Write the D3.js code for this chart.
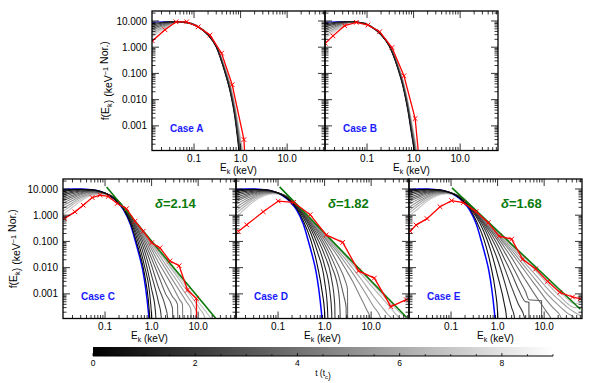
<!DOCTYPE html>
<html>
<head>
<meta charset="utf-8">
<script src="https://cdn.jsdelivr.net/npm/d3@7"></script>
<style>
body{margin:0;background:#fff}
svg text{font-family:"Liberation Sans",Arial,Helvetica,sans-serif}
</style>
</head>
<body>
<svg id="chart" width="600" height="383"></svg>
<script>
// axes
const xDomain = [0.0125, 65]
const yDomain = [1.15e-4, 24]
const xTickLabels = [0.1, 1, 10]
const yTickLabels = [10, 1, 0.1, 0.01, 0.001]
const tRange = [0, 9]
const tLabels = [0, 2, 4, 6, 8]

// top row (A, B): energies shared by every curve, one row of f values per curve
const topE = [0.0125, 0.02, 0.03, 0.045, 0.08, 0.12, 0.2, 0.3, 0.45, 0.6, 0.75, 0.9, 1.05, 1.2]
const blueA = [8.9, 9.3, 9.5, 9.5, 8.25, 6.05, 2.94, 1.04, 0.133, 0.021, 0.0027, 2.2e-4, 1.8e-5, 1.2e-6]
const rowsA = [
	[0.9, [8.0, 8.8, 9.2, 9.4, 8.2, 6.0, 2.9, 1.02, 0.125, 0.019, 0.0022, 1.6e-4, 1e-5, 5e-7]],
	[1.8, [7.0, 8.2, 9.0, 9.4, 8.25, 6.05, 2.94, 1.04, 0.133, 0.021, 0.0027, 2.2e-4, 1.8e-5, 1.2e-6]],
	[2.7, [6.0, 7.5, 8.7, 9.3, 8.3, 6.1, 2.98, 1.06, 0.141, 0.023, 0.0032, 3e-4, 3e-5, 2.5e-6]],
	[3.6, [5.1, 6.8, 8.3, 9.2, 8.35, 6.15, 3.02, 1.08, 0.15, 0.026, 0.0037, 3.9e-4, 4.5e-5, 5e-6]],
	[4.5, [4.3, 6.1, 7.9, 9.1, 8.4, 6.2, 3.06, 1.1, 0.16, 0.029, 0.0043, 5e-4, 7e-5, 9e-6]],
	[5.4, [3.6, 5.4, 7.5, 9.0, 8.45, 6.25, 3.1, 1.12, 0.17, 0.032, 0.005, 6.3e-4, 1e-4, 1.6e-5]],
	[6.3, [3.0, 4.8, 7.0, 8.9, 8.5, 6.3, 3.14, 1.14, 0.18, 0.035, 0.0057, 8e-4, 1.5e-4, 2.7e-5]],
	[7.2, [2.5, 4.2, 6.6, 8.8, 8.55, 6.35, 3.18, 1.16, 0.19, 0.038, 0.0065, 1e-3, 2.1e-4, 4.5e-5]]
]
const redA = [[0.0127, 1.74], [0.0238, 4.6], [0.041, 9.3], [0.0695, 9.3], [0.123, 6.0], [0.22, 2.9],
	[0.39, 0.59], [0.66, 0.037], [1.18, 3.0e-4], [1.3, 1e-5]]

const blueB = [8.9, 9.3, 9.5, 9.5, 8.35, 6.15, 2.99, 1.12, 0.18, 0.031, 0.0046, 6e-4, 1e-4, 1.2e-5]
const rowsB = [
	[0.9, [8.0, 8.8, 9.2, 9.4, 8.3, 6.1, 2.95, 1.1, 0.17, 0.028, 0.004, 5e-4, 8e-5, 8e-6]],
	[1.8, [7.0, 8.1, 8.9, 9.35, 8.35, 6.15, 2.99, 1.12, 0.18, 0.031, 0.0046, 6e-4, 1e-4, 1.2e-5]],
	[2.7, [6.0, 7.4, 8.6, 9.3, 8.4, 6.2, 3.03, 1.14, 0.19, 0.034, 0.0052, 7.2e-4, 1.3e-4, 1.8e-5]],
	[3.6, [5.0, 6.6, 8.2, 9.2, 8.45, 6.25, 3.07, 1.16, 0.2, 0.037, 0.0058, 8.5e-4, 1.6e-4, 2.6e-5]],
	[4.5, [4.2, 5.9, 7.8, 9.1, 8.5, 6.3, 3.1, 1.18, 0.21, 0.04, 0.0065, 1e-3, 2e-4, 3.6e-5]],
	[5.4, [3.5, 5.2, 7.3, 9.0, 8.55, 6.35, 3.13, 1.2, 0.22, 0.043, 0.0072, 1.15e-3, 2.5e-4, 5e-5]],
	[6.3, [2.9, 4.5, 6.8, 8.9, 8.6, 6.4, 3.16, 1.22, 0.23, 0.046, 0.008, 1.3e-3, 3e-4, 6.5e-5]],
	[7.2, [2.3, 3.9, 6.3, 8.8, 8.65, 6.45, 3.2, 1.25, 0.24, 0.05, 0.0088, 1.5e-3, 3.6e-4, 8.5e-5]]
]
const redB = [[0.0127, 1.41], [0.0186, 2.7], [0.033, 6.6], [0.059, 8.9], [0.105, 7.0], [0.187, 3.9],
	[0.343, 0.97], [0.62, 0.081], [1.08, 0.0019], [1.35, 3e-5]]

// bottom row (C, D, E): low-energy part on loE, then the tail as [E, f] pairs
const loE = [0.0125, 0.02, 0.03, 0.05, 0.08, 0.12]
const blueBot = [[0.0125, 9.5], [0.02, 10], [0.03, 10], [0.05, 9.4], [0.08, 8.0], [0.12, 5.8], [0.18, 3.3],
	[0.25, 1.6], [0.35, 0.45], [0.45, 0.1], [0.55, 0.027], [0.65, 0.0075], [0.75, 0.0015], [0.85, 2.2e-4], [0.95, 2.5e-5]]

const curvesC = [
	{t:0.3, lo:[9.0,9.6,9.8,9.3,8.0,5.9], tail:[[0.18,3.4],[0.25,1.7],[0.35,0.5],[0.5,0.07],[0.7,0.006],[0.85,6e-4],[0.95,5e-5]]},
	{t:0.9, lo:[8.0,9.0,9.5,9.2,8.0,6.0], tail:[[0.18,3.5],[0.25,1.8],[0.35,0.6],[0.5,0.11],[0.7,0.012],[0.9,0.0012],[1.0,1.5e-4],[1.08,1e-5]]},
	{t:1.5, lo:[6.9,8.2,9.0,9.0,7.9,6.0], tail:[[0.18,3.6],[0.25,1.9],[0.35,0.7],[0.5,0.16],[0.7,0.025],[1.0,0.0015],[1.2,2.5e-4],[1.3,2e-5]]},
	{t:2.1, lo:[5.9,7.4,8.4,8.7,7.8,6.0], tail:[[0.18,3.7],[0.25,2.0],[0.35,0.8],[0.5,0.22],[0.7,0.045],[1.0,0.005],[1.4,5e-4],[1.6,1.5e-4],[1.7,1e-5]]},
	{t:2.7, lo:[5.0,6.6,7.8,8.4,7.7,6.0], tail:[[0.18,3.75],[0.25,2.0],[0.35,0.85],[0.5,0.28],[0.7,0.07],[1.0,0.012],[1.4,0.0018],[2.0,3e-4],[2.2,1.3e-4],[2.25,1e-5]]},
	{t:3.3, lo:[4.2,5.8,7.2,8.0,7.5,6.0], tail:[[0.18,3.8],[0.25,2.0],[0.35,0.9],[0.5,0.32],[0.7,0.1],[1.0,0.022],[1.4,0.005],[2.0,0.001],[2.8,3e-4],[2.9,1e-5]]},
	{t:3.9, lo:[3.5,5.0,6.6,7.7,7.4,6.0], tail:[[0.18,3.85],[0.25,2.0],[0.35,0.92],[0.5,0.36],[0.7,0.13],[1.0,0.035],[1.4,0.009],[2.0,0.0025],[2.8,8e-4],[3.6,4e-4],[3.7,1e-5]]},
	{t:4.5, lo:[2.9,4.3,6.0,7.3,7.2,6.0], tail:[[0.18,3.9],[0.25,2.0],[0.35,0.94],[0.5,0.4],[0.7,0.16],[1.0,0.05],[1.4,0.016],[2.0,0.0055],[2.8,0.002],[4.0,6e-4],[4.6,4e-4],[4.7,1e-5]]},
	{t:5.1, lo:[2.3,3.6,5.3,6.9,7.0,6.0], tail:[[0.18,3.95],[0.25,2.0],[0.35,0.95],[0.5,0.42],[0.7,0.18],[1.0,0.065],[1.4,0.025],[2.0,0.009],[2.8,0.0035],[4.0,0.0013],[5.6,5e-4],[7.0,2.5e-4],[7.1,1e-5]]},
	{t:5.7, lo:[1.8,3.0,4.7,6.5,6.9,6.0], tail:[[0.18,4.0],[0.25,2.0],[0.35,0.96],[0.5,0.44],[0.7,0.2],[1.0,0.08],[1.4,0.034],[2.0,0.013],[2.8,0.0055],[4.0,0.0022],[5.6,9e-4],[8.0,3.5e-4],[9.2,2e-4],[9.3,1e-5]]},
	{t:6.3, lo:[1.4,2.5,4.1,6.1,6.7,6.0], tail:[[0.18,4.0],[0.25,2.0],[0.35,0.97],[0.5,0.45],[0.7,0.21],[1.0,0.09],[1.4,0.042],[2.0,0.018],[2.8,0.008],[4.0,0.0033],[5.6,0.0014],[8.0,6e-4],[11,2.6e-4],[14,1.2e-4],[15,1e-5]]},
	{t:6.9, lo:[1.05,2.0,3.5,5.6,6.5,6.0], tail:[[0.18,4.0],[0.25,2.0],[0.35,0.98],[0.5,0.46],[0.7,0.22],[1.0,0.095],[1.4,0.047],[2.0,0.021],[2.8,0.0095],[4.0,0.0042],[5.6,0.0019],[8.0,8.5e-4],[11,4e-4],[16,1.7e-4],[20,1e-4]]}
]
const redC = [[0.0133,0.74],[0.0226,1.34],[0.034,2.4],[0.053,4.7],[0.078,5.8],[0.117,5.2],[0.183,2.8],[0.29,1.78],
	[0.44,0.59],[0.66,0.245],[1.0,0.089],[1.51,0.057],[2.47,0.018],[3.9,0.0118],[5.9,0.0014],[9.2,6.7e-4],[9.25,1e-5]]
const greenC = [[0.108, 12], [24, 1.15e-4]]

const curvesD = [
	{t:0.3, lo:[9.0,9.6,9.8,9.3,8.0,6.0], tail:[[0.18,3.5],[0.25,1.8],[0.35,0.6],[0.5,0.12],[0.7,0.012],[0.9,0.001],[1.0,2e-4],[1.05,1e-5]]},
	{t:0.9, lo:[8.0,9.0,9.5,9.2,8.0,6.1], tail:[[0.18,3.7],[0.25,2.0],[0.35,0.8],[0.5,0.22],[0.7,0.04],[1.0,0.003],[1.15,3e-4],[1.22,1e-5]]},
	{t:1.5, lo:[6.8,8.1,8.9,9.0,8.0,6.2], tail:[[0.18,3.9],[0.25,2.2],[0.35,0.95],[0.5,0.32],[0.7,0.08],[1.0,0.012],[1.3,0.0012],[1.42,2e-4],[1.45,1e-5]]},
	{t:2.1, lo:[5.7,7.2,8.3,8.7,7.9,6.2], tail:[[0.18,4.0],[0.25,2.3],[0.35,1.05],[0.5,0.4],[0.7,0.13],[1.0,0.03],[1.4,0.004],[1.65,4e-4],[1.7,1e-5]]},
	{t:2.7, lo:[4.7,6.3,7.6,8.3,7.8,6.3], tail:[[0.18,4.1],[0.25,2.4],[0.35,1.15],[0.5,0.48],[0.7,0.18],[1.0,0.055],[1.4,0.012],[2.0,0.0012],[2.15,2e-4],[2.2,1e-5]]},
	{t:3.3, lo:[3.9,5.5,7.0,8.0,7.7,6.3], tail:[[0.18,4.2],[0.25,2.45],[0.35,1.2],[0.5,0.54],[0.7,0.23],[1.0,0.08],[1.4,0.024],[2.0,0.005],[2.6,8e-4],[2.9,3e-4],[2.95,1e-5]]},
	{t:3.9, lo:[3.2,4.8,6.4,7.6,7.6,6.3], tail:[[0.18,4.3],[0.25,2.5],[0.35,1.25],[0.5,0.58],[0.7,0.27],[1.0,0.11],[1.4,0.04],[2.0,0.012],[2.8,0.003],[3.1,0.0015],[3.15,1e-5]]},
	{t:4.5, lo:[2.6,4.1,5.8,7.2,7.4,6.3], tail:[[0.18,4.4],[0.25,2.55],[0.35,1.3],[0.5,0.62],[0.7,0.31],[1.0,0.14],[1.4,0.06],[2.0,0.024],[2.8,0.009],[4.0,0.003],[5.6,9e-4],[8.0,2.5e-4],[9.5,1.2e-4],[10,1e-5]]},
	{t:5.1, lo:[2.0,3.4,5.1,6.8,7.2,6.3], tail:[[0.18,4.5],[0.25,2.6],[0.35,1.35],[0.5,0.66],[0.7,0.34],[1.0,0.16],[1.4,0.075],[2.0,0.034],[2.8,0.015],[4.0,0.0062],[5.6,0.0025],[8.0,9e-4],[11,3.5e-4],[16,1.2e-4],[17,1e-5]]},
	{t:5.7, lo:[1.5,2.8,4.5,6.4,7.0,6.3], tail:[[0.18,4.55],[0.25,2.6],[0.35,1.38],[0.5,0.7],[0.7,0.36],[1.0,0.18],[1.4,0.09],[2.0,0.043],[2.8,0.021],[4.0,0.0095],[5.6,0.0045],[8.0,0.0019],[11,8.5e-4],[16,3.6e-4],[23,1.6e-4],[28,1.1e-4],[29,1e-5]]},
	{t:6.3, lo:[1.15,2.3,3.9,6.0,6.8,6.3], tail:[[0.18,4.6],[0.25,2.6],[0.35,1.4],[0.5,0.72],[0.7,0.38],[1.0,0.2],[1.4,0.1],[2.0,0.052],[2.8,0.027],[4.0,0.013],[5.6,0.0068],[8.0,0.0033],[11,0.0017],[16,8e-4],[23,3.8e-4],[32,1.9e-4],[45,1e-4]]},
	{t:6.9, lo:[0.85,1.8,3.3,5.5,6.6,6.3], tail:[[0.18,4.65],[0.25,2.6],[0.35,1.42],[0.5,0.74],[0.7,0.39],[1.0,0.21],[1.4,0.11],[2.0,0.057],[2.8,0.03],[4.0,0.0155],[5.6,0.0082],[8.0,0.0042],[11,0.0023],[16,0.0011],[23,5.6e-4],[32,3e-4],[45,1.7e-4],[65,1.05e-4]]}
]
const redD = [[0.014,0.24],[0.0212,0.43],[0.048,1.35],[0.101,3.45],[0.215,3.1],[0.49,1.05],[1.08,0.177],[2.45,0.092],
	[5.35,0.0075],[11.7,0.004],[26.5,3.25e-4],[57,6e-4]]
const greenD = [[0.108, 12], [58, 1.25e-4]]

const curvesE = [
	{t:0.3, lo:[9.0,9.6,9.8,9.3,8.0,6.0], tail:[[0.18,3.5],[0.25,1.8],[0.35,0.6],[0.5,0.13],[0.7,0.014],[0.9,0.0012],[1.0,2e-4],[1.05,1e-5]]},
	{t:0.9, lo:[8.0,9.0,9.5,9.2,8.0,6.1], tail:[[0.18,3.7],[0.25,2.0],[0.35,0.85],[0.5,0.25],[0.7,0.05],[1.0,0.005],[1.4,4e-4],[1.55,1.3e-4],[1.6,1e-5]]},
	{t:1.5, lo:[6.8,8.1,8.9,9.0,8.0,6.2], tail:[[0.18,3.9],[0.25,2.2],[0.35,1.0],[0.5,0.36],[0.7,0.1],[1.0,0.02],[1.4,0.003],[2.0,3e-4],[2.3,1.3e-4],[2.4,1e-5]]},
	{t:2.1, lo:[5.7,7.2,8.3,8.7,7.9,6.2], tail:[[0.18,4.0],[0.25,2.3],[0.35,1.1],[0.5,0.45],[0.7,0.16],[1.0,0.045],[1.4,0.01],[2.0,0.0018],[2.8,4e-4],[3.8,1.2e-4],[3.9,1e-5]]},
	{t:2.7, lo:[4.7,6.3,7.6,8.3,7.8,6.3], tail:[[0.18,4.1],[0.25,2.4],[0.35,1.2],[0.5,0.52],[0.7,0.22],[1.0,0.075],[1.4,0.022],[2.0,0.006],[2.8,0.0015],[4.0,5e-4],[4.7,4.8e-4],[4.75,1e-5]]},
	{t:3.3, lo:[3.9,5.5,7.0,8.0,7.7,6.3], tail:[[0.18,4.2],[0.25,2.45],[0.35,1.25],[0.5,0.58],[0.7,0.27],[1.0,0.11],[1.4,0.04],[2.0,0.013],[2.8,0.004],[4.0,0.0012],[4.7,6e-4],[8.8,5.5e-4],[8.85,1e-5]]},
	{t:3.9, lo:[3.2,4.8,6.4,7.6,7.6,6.3], tail:[[0.18,4.3],[0.25,2.5],[0.35,1.3],[0.5,0.62],[0.7,0.31],[1.0,0.14],[1.4,0.06],[2.0,0.024],[2.8,0.009],[4.0,0.0033],[5.6,0.0013],[8.0,5e-4],[11,2.2e-4],[14,1.1e-4],[15,1e-5]]},
	{t:4.5, lo:[2.6,4.1,5.8,7.2,7.4,6.3], tail:[[0.18,4.35],[0.25,2.52],[0.35,1.35],[0.5,0.68],[0.7,0.35],[1.0,0.17],[1.4,0.08],[2.0,0.036],[2.8,0.016],[4.0,0.0068],[5.6,0.003],[8.0,0.0013],[11,6e-4],[16,2.8e-4],[23,1.3e-4],[25,1e-5]]},
	{t:5.1, lo:[2.0,3.4,5.1,6.8,7.2,6.3], tail:[[0.18,4.4],[0.25,2.55],[0.35,1.4],[0.5,0.72],[0.7,0.38],[1.0,0.19],[1.4,0.095],[2.0,0.046],[2.8,0.022],[4.0,0.01],[5.6,0.0048],[8.0,0.0022],[11,0.0011],[16,5.5e-4],[23,3e-4],[32,1.8e-4],[45,1.2e-4],[50,1e-5]]},
	{t:5.7, lo:[1.5,2.8,4.5,6.4,7.0,6.3], tail:[[0.18,4.42],[0.25,2.56],[0.35,1.42],[0.5,0.76],[0.7,0.41],[1.0,0.21],[1.4,0.11],[2.0,0.057],[2.8,0.029],[4.0,0.014],[5.6,0.0072],[8.0,0.0035],[11,0.0018],[16,9e-4],[23,5e-4],[32,3e-4],[45,2e-4],[65,1.4e-4]]},
	{t:6.3, lo:[1.2,2.3,3.9,6.0,6.8,6.3], tail:[[0.18,4.43],[0.25,2.57],[0.35,1.43],[0.5,0.78],[0.7,0.43],[1.0,0.23],[1.4,0.125],[2.0,0.068],[2.8,0.036],[4.0,0.019],[5.6,0.0102],[8.0,0.0052],[11,0.0028],[16,0.0014],[23,7.5e-4],[32,4.2e-4],[45,3e-4],[65,3.2e-4]]},
	{t:6.9, lo:[0.95,1.8,3.3,5.5,6.6,6.3], tail:[[0.18,4.44],[0.25,2.58],[0.35,1.44],[0.5,0.79],[0.7,0.44],[1.0,0.24],[1.4,0.135],[2.0,0.074],[2.8,0.041],[4.0,0.0225],[5.6,0.0125],[8.0,0.0068],[11,0.0038],[16,0.002],[23,0.0011],[32,6.2e-4],[45,4.2e-4],[65,5e-4]]}
]
const redE = [[0.0133,0.245],[0.0177,0.42],[0.0305,0.74],[0.058,2.1],[0.103,3.6],[0.183,3.0],[0.343,1.37],[0.63,0.52],
	[1.08,0.16],[2.0,0.122],[3.44,0.021],[6.6,0.0089],[11.8,0.003],[21.7,0.00114],[40.7,7.6e-4],[60,6.5e-4]]
const greenE = [[0.105, 11], [60, 2.6e-4]]

const W = 173, H = 139.5
const svg = d3.select("#chart")
const defs = svg.append("defs")
const gray = t => d3.interpolateRgb("#000", "#fff")(t/tRange[1])

const fromRows = rows => rows.map(r => ({t: r[0], pts: topE.map((e, i) => [e, r[1][i]])}))
const fromTails = cs => cs.map(c => ({t: c.t, pts: loE.map((e, i) => [e, c.lo[i]]).concat(c.tail)}))

const panels = [
	{name:"A", x:152, y:11, yLab:-43, blueW:1, blue:topE.map((e, i) => [e, blueA[i]]), curves:fromRows(rowsA), red:redA},
	{name:"B", x:325, y:11, blueW:1, blue:topE.map((e, i) => [e, blueB[i]]), curves:fromRows(rowsB), red:redB},
	{name:"C", x:63, y:179, yLab:-46, blueW:1.5, blue:blueBot, curves:fromTails(curvesC), red:redC, green:greenC, delta:"2.14"},
	{name:"D", x:236, y:179, blueW:1.5, blue:blueBot, curves:fromTails(curvesD), red:redD, green:greenD, delta:"1.82"},
	{name:"E", x:409, y:179, blueW:1.5, blue:blueBot, curves:fromTails(curvesE), red:redE, green:greenE, delta:"1.68"}
]

const isMajor = v => Math.abs(Math.log10(v) - Math.round(Math.log10(v))) < 1e-6

function subText(sel, parts, size){
	// parts: [text, "sub"|"sup"|undefined]
	parts.forEach(p => {
		const s = sel.append("tspan").text(p[0])
		if(p[1]==="sub") s.attr("font-size", size*0.7).attr("dy", size*0.3)
		else if(p[1]==="sup") s.attr("font-size", size*0.7).attr("dy", -size*0.4)
		const back = p[1]==="sub" ? -size*0.3 : p[1]==="sup" ? size*0.4 : 0
		if(back) sel.append("tspan").attr("dy", back).text("")
	})
}

panels.forEach(p => {
	const x = d3.scaleLog().domain(xDomain).range([0, W])
	const y = d3.scaleLog().domain(yDomain).range([H, 0])
	const g = svg.append("g").attr("transform", `translate(${p.x},${p.y})`)
	defs.append("clipPath").attr("id", "clip"+p.name)
		.append("rect").attr("width", W).attr("height", H)
	const body = g.append("g").attr("clip-path", `url(#clip${p.name})`)

	const smooth = d3.line().x(d => x(d[0])).y(d => y(d[1])).curve(d3.curveMonotoneX)
	const straight = d3.line().x(d => x(d[0])).y(d => y(d[1]))

	body.append("path").attr("d", smooth(p.blue))
		.attr("fill", "none").attr("stroke", "#0000ff").attr("stroke-width", p.blueW)

	p.curves.slice().sort((a, b) => b.t - a.t).forEach(c => {
		body.append("path").attr("d", smooth(c.pts))
			.attr("fill", "none").attr("stroke", gray(c.t)).attr("stroke-width", 1.1)
	})

	if(p.green)
		body.append("path").attr("d", straight(p.green))
			.attr("fill", "none").attr("stroke", "#0b7a0b").attr("stroke-width", 1.6)

	body.append("path").attr("d", straight(p.red))
		.attr("fill", "none").attr("stroke", "#ff0000").attr("stroke-width", 1.3)
	body.selectAll(".mk").data(p.red).enter().append("path")
		.attr("transform", d => `translate(${x(d[0])},${y(d[1])})`)
		.attr("d", "M-2.3,-2.3L2.3,2.3M-2.3,2.3L2.3,-2.3")
		.attr("stroke", "#ff0000").attr("stroke-width", 1)

	// ticks on all four sides, pointing inward
	const tk = g.append("g").attr("stroke", "#000").attr("stroke-width", 0.8)
	x.ticks().forEach(v => {
		const L = isMajor(v) ? 7 : 3.5, px = x(v)
		tk.append("line").attr("x1", px).attr("x2", px).attr("y1", H).attr("y2", H-L)
		tk.append("line").attr("x1", px).attr("x2", px).attr("y1", 0).attr("y2", L)
	})
	y.ticks().forEach(v => {
		const L = isMajor(v) ? 7 : 3.5, py = y(v)
		tk.append("line").attr("x1", 0).attr("x2", L).attr("y1", py).attr("y2", py)
		tk.append("line").attr("x1", W).attr("x2", W-L).attr("y1", py).attr("y2", py)
	})
	g.append("rect").attr("width", W).attr("height", H)
		.attr("fill", "none").attr("stroke", "#000").attr("stroke-width", 1.3)

	xTickLabels.forEach(v => {
		g.append("text").attr("x", x(v)).attr("y", H+11).attr("text-anchor", "middle")
			.attr("font-size", 10).text(d3.format(".1f")(v))
	})
	const xt = g.append("text").attr("x", W/2).attr("y", H+20.5).attr("text-anchor", "middle").attr("font-size", 10)
	subText(xt, [["E"], ["k", "sub"], [" (keV)"]], 10)

	if(p.yLab){
		yTickLabels.forEach(v => {
			g.append("text").attr("x", -5).attr("y", y(v)).attr("dy", "0.36em").attr("text-anchor", "end")
				.attr("font-size", 10).text(d3.format(".3f")(v))
		})
		const yt = g.append("text").attr("transform", `translate(${p.yLab},${H/2}) rotate(-90)`)
			.attr("text-anchor", "middle").attr("font-size", 10.5)
		subText(yt, [["f(E"], ["k", "sub"], [") (keV"], ["\u22121", "sup"], [" Nor.)"]], 10.5)
	}

	g.append("text").attr("x", 18).attr("y", 121).attr("font-size", 10).attr("font-weight", "bold")
		.attr("fill", "#1a1aff").text("Case " + p.name)

	if(p.delta){
		const dt = g.append("text").attr("x", 92).attr("y", 29).attr("font-size", 13)
			.attr("font-weight", "bold").attr("fill", "#0b7a0b")
		dt.append("tspan").attr("font-style", "italic").text("\u03b4")
		dt.append("tspan").text("=" + p.delta)
	}
})

// colour bar for t
const grad = defs.append("linearGradient").attr("id", "tgrad")
grad.append("stop").attr("offset", 0).attr("stop-color", gray(tRange[0]))
grad.append("stop").attr("offset", 1).attr("stop-color", gray(tRange[1]))
const cbW = 460, cbH = 9
const ts = d3.scaleLinear().domain(tRange).range([0, cbW])
const cb = svg.append("g").attr("transform", "translate(93,347)")
cb.append("rect").attr("width", cbW).attr("height", cbH).attr("fill", "url(#tgrad)")
cb.append("line").attr("x1", 0).attr("x2", cbW).attr("y1", cbH).attr("y2", cbH)
	.attr("stroke", "#000").attr("stroke-width", 1.2)
d3.range(tRange[0], tRange[1] + 0.01, 0.5).forEach(v => {
	cb.append("line").attr("x1", ts(v)).attr("x2", ts(v)).attr("y1", cbH).attr("y2", cbH - (v % 2 === 0 ? 3 : 1.8))
		.attr("stroke", "#000").attr("stroke-width", 0.8)
})
tLabels.forEach(v => {
	cb.append("text").attr("x", ts(v)).attr("y", 19).attr("text-anchor", "middle").attr("font-size", 8.5).text(v)
})
const tt = cb.append("text").attr("x", ts(4.5)).attr("y", 29).attr("text-anchor", "middle").attr("font-size", 8.5)
subText(tt, [["t (t"], ["c", "sub"], [")"]], 8.5)
</script>
</body>
</html>
